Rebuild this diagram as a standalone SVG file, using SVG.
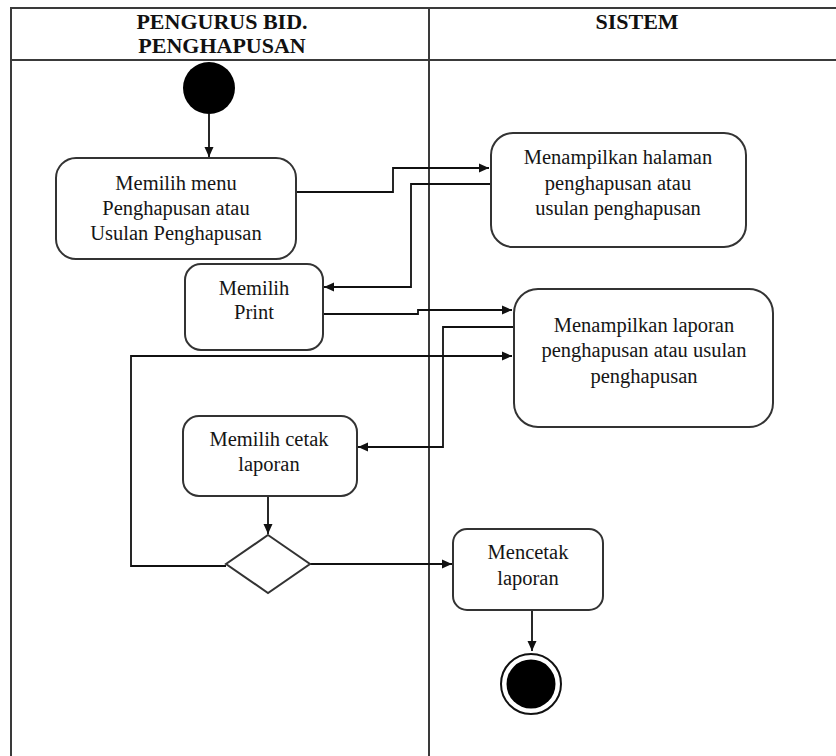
<svg xmlns="http://www.w3.org/2000/svg" width="836" height="756" viewBox="0 0 836 756">
<defs>
<style>
.frame{stroke:#3a3a3a;stroke-width:2;fill:none}
.node{fill:#fff;stroke:#333;stroke-width:2}
.txt{font-family:"Liberation Serif","Times New Roman",serif;font-size:20.5px;fill:#151515;text-anchor:middle}
.hdr{font-family:"Liberation Serif","Times New Roman",serif;font-size:22px;font-weight:bold;fill:#111;text-anchor:middle}
.conn{fill:none;stroke:#111;stroke-width:1.8}
</style>
<marker id="arr" viewBox="0 0 10 10" refX="10" refY="5" markerWidth="10" markerHeight="10" markerUnits="userSpaceOnUse" orient="auto">
<path d="M0,0.5 L10,5 L0,9.5 Z" fill="#111"/>
</marker>
</defs>
<rect width="836" height="756" fill="#fff"/>
<g id="lanes">
<path class="frame" d="M11,756 V8 H836 M11,60 H836 M429,8 V756"/>
<text class="hdr" x="222" y="29">PENGURUS BID.</text>
<text class="hdr" x="222" y="53">PENGHAPUSAN</text>
<text class="hdr" x="637" y="29">SISTEM</text>
</g>
<g id="connectors">
<path class="conn" d="M209,114 V157" marker-end="url(#arr)"/>
<path class="conn" d="M296,192 H393 V168 H489" marker-end="url(#arr)"/>
<path class="conn" d="M491,184 H411 V287 H324" marker-end="url(#arr)"/>
<path class="conn" d="M323,314 H418 V310 H512" marker-end="url(#arr)"/>
<path class="conn" d="M514,327 H443 V447 H358" marker-end="url(#arr)"/>
<path class="conn" d="M268,496 V534" marker-end="url(#arr)"/>
<path class="conn" d="M226,566 H131 V356 H512" marker-end="url(#arr)"/>
<path class="conn" d="M310,564 H452" marker-end="url(#arr)"/>
<path class="conn" d="M532,610 V651" marker-end="url(#arr)"/>
</g>
<g id="start"><circle cx="209" cy="88" r="26" fill="#000"/></g>
<g id="n1">
<rect class="node" x="56" y="158" width="240" height="101" rx="20"/>
<text class="txt" x="176" y="190">Memilih menu</text>
<text class="txt" x="176" y="215">Penghapusan atau</text>
<text class="txt" x="176" y="240">Usulan Penghapusan</text>
</g>
<g id="n2">
<rect class="node" x="491" y="133" width="255" height="114" rx="22"/>
<text class="txt" x="618" y="164">Menampilkan halaman</text>
<text class="txt" x="618" y="190">penghapusan atau</text>
<text class="txt" x="618" y="215">usulan penghapusan</text>
</g>
<g id="n3">
<rect class="node" x="185" y="264" width="138" height="86" rx="16"/>
<text class="txt" x="254" y="295">Memilih</text>
<text class="txt" x="254" y="319">Print</text>
</g>
<g id="n4">
<rect class="node" x="514" y="289" width="259" height="138" rx="24"/>
<text class="txt" x="644" y="332">Menampilkan laporan</text>
<text class="txt" x="644" y="357">penghapusan atau usulan</text>
<text class="txt" x="644" y="383">penghapusan</text>
</g>
<g id="n5">
<rect class="node" x="183" y="416" width="174" height="80" rx="16"/>
<text class="txt" x="269" y="446">Memilih cetak</text>
<text class="txt" x="269" y="471">laporan</text>
</g>
<g id="decision">
<path class="node" d="M268,535 L310,564 L268,593 L226,564 Z"/>
</g>
<g id="n6">
<rect class="node" x="453" y="529" width="150" height="81" rx="14"/>
<text class="txt" x="528" y="559">Mencetak</text>
<text class="txt" x="528" y="585">laporan</text>
</g>
<g id="end">
<circle cx="531" cy="684" r="30" fill="#fff" stroke="#111" stroke-width="2"/>
<circle cx="531" cy="684" r="24.5" fill="#000"/>
</g>
</svg>
